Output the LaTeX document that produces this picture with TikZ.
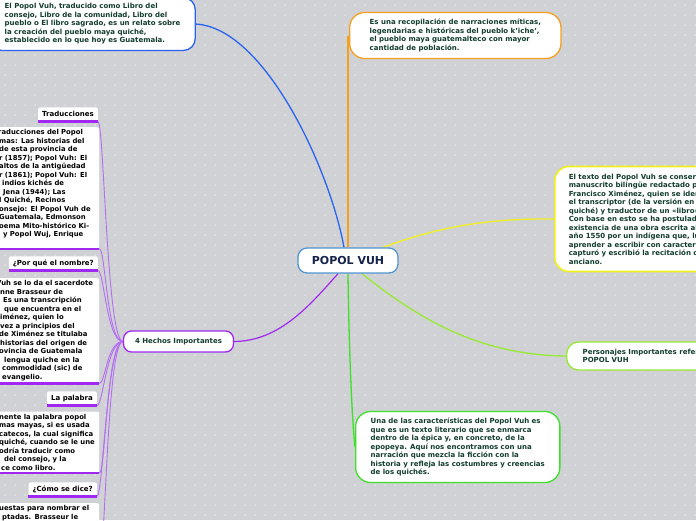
\documentclass[tikz,border=0pt]{standalone}
\usepackage{fontspec}
\setmainfont{DejaVu Sans}
\definecolor{bg}{RGB}{208,209,213}
\definecolor{dotc}{RGB}{222,223,227}
\definecolor{txt}{RGB}{18,60,45}
\definecolor{blueC}{RGB}{40,100,240}
\definecolor{orangeC}{RGB}{245,160,30}
\definecolor{yellowC}{RGB}{240,240,30}
\definecolor{chartC}{RGB}{150,235,50}
\definecolor{greenC}{RGB}{60,225,40}
\definecolor{purpleC}{RGB}{160,40,240}
\definecolor{childC}{RGB}{180,110,240}
\definecolor{mainB}{RGB}{80,150,210}
\definecolor{navy}{RGB}{20,35,75}
\newcommand\bodyfont{\fontsize{7}{8.5}\selectfont\bfseries}
\newcommand\sidefont{\fontsize{6.85}{8.5}\selectfont\bfseries\hyphenpenalty=10000 }
\pgfdeclarelayer{bgl}
\pgfdeclarelayer{edges}
\pgfsetlayers{bgl,edges,main}
\tikzset{
  bubble/.style={fill=white, line width=1.3pt, align=left, font=\bodyfont, text=txt},
  lab/.style={fill=white, rounded corners=1.5pt, font=\bodyfont, text=black, inner xsep=4pt, inner ysep=0pt, minimum height=14pt, anchor=south east},
  tbox/.style={fill=white, rounded corners=2pt, font=\sidefont, text=black, align=left, text width=96pt, inner xsep=4pt, inner ysep=2.5pt, anchor=north west},
  uline/.style={draw=purpleC, line width=2.2pt},
  childline/.style={draw=childC, line width=0.9pt},
}
\begin{document}
\begin{tikzpicture}[x=1pt,y=-1pt]
\useasboundingbox (0,0) rectangle (696,520);
\begin{pgfonlayer}{bgl}
\fill[bg] (0,0) rectangle (696,520);
\foreach \yy in {5,15,...,515} \draw[dotc, line width=0.5pt, dash pattern=on 2.4pt off 7.6pt] (3.8,\yy) -- (696,\yy);
\foreach \xx in {5,15,...,695} \draw[dotc, line width=0.5pt, dash pattern=on 2.4pt off 7.6pt] (\xx,3.8) -- (\xx,520);
\end{pgfonlayer}

\node[bubble, draw=blueC, anchor=north west, inner xsep=15pt, inner ysep=6pt, rounded corners=12pt] (tl) at (-11,-3) {El Popol Vuh, traducido como Libro del\\consejo, Libro de la comunidad, Libro del\\pueblo o El libro sagrado, es un relato sobre\\la creación del pueblo maya quiché,\\establecido en lo que hoy es Guatemala.};
\node[bubble, draw=orangeC, anchor=west, inner xsep=20pt, minimum height=46pt, rounded corners=15pt] (rec) at (349,35.5) {Es una recopilación de narraciones míticas,\\legendarias e históricas del pueblo k’iche’,\\el pueblo maya guatemalteco con mayor\\cantidad de población.};
\node[bubble, draw=yellowC, line width=1.6pt, anchor=west, inner xsep=14pt, minimum height=105pt, rounded corners=14pt] (txtn) at (554,219) {El texto del Popol Vuh se conservó en un\\manuscrito bilingüe redactado por\\Francisco Ximénez, quien se identifica como\\el transcriptor (de la versión en lengua\\quiché) y traductor de un «libro»\\Con base en esto se ha postulado la\\existencia de una obra escrita alrededor del\\año 1550 por un indígena que, luego de\\aprender a escribir con caracteres latinos,\\capturó y escribió la recitación oral de un\\anciano.};
\node[bubble, draw=chartC, anchor=west, inner xsep=16pt, minimum height=28pt, rounded corners=12pt] (pers) at (566,356) {Personajes Importantes referentes al\\POPOL VUH};
\node[bubble, draw=greenC, anchor=west, inner xsep=15pt, minimum height=71pt, rounded corners=15pt] (car) at (355,447) {Una de las características del Popol Vuh es\\que es un texto literario que se enmarca\\dentro de la épica y, en concreto, de la\\epopeya. Aquí nos encontramos con una\\narración que mezcla la ficción con la\\historia y refleja las costumbres y creencias\\de los quichés.};
\node[draw=mainB, line width=1.3pt, fill=white, rounded corners=9pt, minimum width=100pt, minimum height=25pt, font=\fontsize{11}{13}\selectfont\bfseries, text=navy] (main) at (348,260.5) {POPOL VUH};
\node[bubble, draw=purpleC, minimum width=110pt, minimum height=21pt, rounded corners=8pt, align=center] (hechos) at (178.5,341.5) {4 Hechos Importantes};

% left column
\node[lab] (l1) at (98,121.5) {Traducciones};
\node[tbox] (t1) at (-5,127) {\hspace*{-1pt}raducciones del Popol\\mas: Las historias del\\de esta provincia de\\r (1857); Popol Vuh: El\\altos de la antigüedad\\r (1861); Popol Vuh: El\\\hspace*{3pt}indios kichés de\\\hspace*{4pt}Jena (1944); Las\\l Quiché, Recinos\\onsejo: El Popol Vuh de\\Guatemala, Edmonson\\oema Mito-histórico Ki-\\\hspace*{4pt}y Popol Wuj, Enrique\rule[-9pt]{0pt}{9pt}};
\node[lab] (l2) at (98,270.5) {¿Por qué el nombre?};
\node[tbox] (t2) at (-5,278) {\hspace*{-3pt}Vuh se lo da el sacerdote\\\hspace*{1pt}nne Brasseur de\\\hspace*{4pt}Es una transcripción\\\hspace*{5pt}que encuentra en el\\\hspace*{1pt}iménez, quien lo\\\hspace*{1pt}vez a principios del\\de Ximénez se titulaba\\\hspace*{1pt}historias del origen de\\ovincia de Guatemala\\\hspace*{5pt}lengua quiche en la\\\hspace*{3pt}commodidad (sic) de\\\hspace*{3pt}evangelio.};
\node[lab] (l3) at (97,405.5) {La palabra};
\node[tbox] (t3) at (-5,411.5) {\mbox{nente la palabra popol}\\\mbox{mas mayas, si es usada}\\\mbox{catecos, la cual significa}\\\mbox{quiché, cuando se le une}\\odría traducir como\\\hspace*{5pt}del consejo, y la\\\hspace*{2pt}ce como libro.};
\node[lab] (l4) at (97,496.5) {¿Cómo se dice?};
\node[tbox] (t4) at (-5,503) {uestas para nombrar el\\\hspace*{3pt}ptadas. Brasseur le\rule[-40pt]{0pt}{40pt}};

% underlines
\foreach \n in {l1,t1,l2,t2,l3,t3,l4,t4}
  \draw[uline] (\n.south west) -- (\n.south east);

\begin{pgfonlayer}{edges}
\draw[blueC, line width=1.3pt] (tl.east) .. controls (265,28) and (330,170) .. ([xshift=-4pt]main.north);
\draw[orangeC, line width=1.3pt] ([xshift=-1pt]rec.west) -- (main.north);
\draw[yellowC, line width=1.3pt] ([xshift=35pt]main.north) .. controls (430,230) and (480,218) .. (txtn.west);
\draw[chartC, line width=1.3pt] ([xshift=14pt]main.south) .. controls (420,320) and (480,355) .. (pers.west);
\draw[greenC, line width=1.3pt] (main.south) .. controls (349,350) and (352,420) .. (car.west);
\draw[purpleC, line width=1.2pt] ([xshift=-10pt]main.south) .. controls (310,305) and (280,341) .. (hechos.east);
\foreach \n in {l1,t1,l2,t2,l3,t3,l4,t4}
  \draw[childline] (\n.south east) .. controls ([xshift=6pt]\n.south east) and ([xshift=-16pt]hechos.west) .. (hechos.west);
\end{pgfonlayer}

\end{tikzpicture}
\end{document}
